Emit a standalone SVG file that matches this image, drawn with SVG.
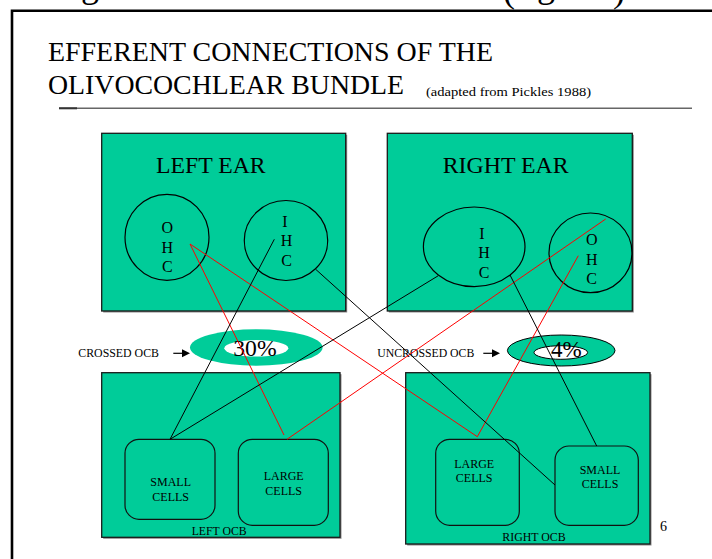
<svg xmlns="http://www.w3.org/2000/svg" width="712" height="559" viewBox="0 0 712 559">
<defs>
<style>
text{font-family:"Liberation Serif","Times New Roman",serif;fill:#000}
.box{fill:#00CC99;stroke:#1a1a1a;stroke-width:1.3}
.shadow{fill:#8a8a8a}
.cell{fill:#00CC99;stroke:#111;stroke-width:1.2}
.ring{fill:none;stroke:#000;stroke-width:1.2}
.let{font-size:16px;text-anchor:middle}
.sm{font-size:12px}
.smc{font-size:12px;text-anchor:middle}
.red{stroke:#FF0000;stroke-width:1;fill:none}
.blk{stroke:#000;stroke-width:1;fill:none}
</style>
</defs>
<rect width="712" height="559" fill="#fff"/>
<g id="cutoff">
<text x="81" y="-3" font-size="36">g</text>
<text x="503" y="2" font-size="36">(</text>
<text x="537" y="-3" font-size="36">g</text>
<text x="613" y="2" font-size="36">)</text>
</g>
<path d="M12,559 V10.8 H712" fill="none" stroke="#000" stroke-width="2.6"/>
<g id="title">
<text x="48" y="61" font-size="28" textLength="445" lengthAdjust="spacingAndGlyphs">EFFERENT CONNECTIONS OF THE</text>
<text x="48" y="94.3" font-size="28" textLength="356" lengthAdjust="spacingAndGlyphs">OLIVOCOCHLEAR BUNDLE</text>
<text x="426" y="95.5" font-size="13" textLength="165" lengthAdjust="spacingAndGlyphs">(adapted  from  Pickles 1988)</text>
<line x1="59" y1="108.3" x2="692" y2="108.3" stroke="#666" stroke-width="1.6"/>
<line x1="59" y1="108.3" x2="77" y2="108.3" stroke="#333" stroke-width="2"/>
</g>
<g id="left-ear">
<rect class="shadow" x="103.2" y="134.8" width="244" height="177.7"/>
<rect class="box" x="101.7" y="133.3" width="244" height="177.7"/>
<text x="156" y="172.7" font-size="23.5" textLength="109.7" lengthAdjust="spacingAndGlyphs">LEFT EAR</text>
<g id="left-ohc">
<ellipse class="ring" cx="167" cy="237.3" rx="42" ry="43"/>
<text class="let" x="167.3" y="233.3">O</text>
<text class="let" x="167.3" y="252.7">H</text>
<text class="let" x="167.3" y="271.7">C</text>
</g>
<g id="left-ihc">
<ellipse class="ring" cx="286" cy="240.5" rx="41.7" ry="40"/>
<text class="let" x="285" y="227.3">I</text>
<text class="let" x="286.5" y="246">H</text>
<text class="let" x="286.5" y="266">C</text>
</g>
</g>
<g id="right-ear">
<rect class="shadow" x="388.8" y="134.8" width="245" height="177.7"/>
<rect class="box" x="387.3" y="133.3" width="245" height="177.7"/>
<text x="442.7" y="172.7" font-size="23.5" textLength="126" lengthAdjust="spacingAndGlyphs">RIGHT EAR</text>
<g id="right-ihc">
<ellipse class="ring" cx="474.2" cy="246.8" rx="50.8" ry="39.8"/>
<text class="let" x="482" y="239.3">I</text>
<text class="let" x="484" y="258.3">H</text>
<text class="let" x="484" y="278.3">C</text>
</g>
<g id="right-ohc">
<ellipse class="ring" cx="590.5" cy="252.8" rx="41.5" ry="39.8"/>
<text class="let" x="591.7" y="245">O</text>
<text class="let" x="591.7" y="265">H</text>
<text class="let" x="591.7" y="284.3">C</text>
</g>
</g>
<g id="crossed">
<text class="sm" x="78.3" y="356.7" textLength="80.7" lengthAdjust="spacingAndGlyphs">CROSSED OCB</text>
<line x1="173.3" y1="353.3" x2="183" y2="353.3" stroke="#000" stroke-width="1.2"/>
<polygon points="182,349.3 190,353.3 182,357.3" fill="#000"/>
<ellipse cx="256.3" cy="347.5" rx="66.3" ry="18.2" fill="#00CC99"/>
<ellipse cx="256.3" cy="348.3" rx="32" ry="8.3" fill="#fff"/>
<text x="233.3" y="356" font-size="24" textLength="43.3" lengthAdjust="spacingAndGlyphs">30%</text>
</g>
<g id="uncrossed">
<text class="sm" x="377.3" y="356.7" textLength="97" lengthAdjust="spacingAndGlyphs">UNCROSSED OCB</text>
<line x1="483.3" y1="353.3" x2="493" y2="353.3" stroke="#000" stroke-width="1.2"/>
<polygon points="492,349.3 500,353.3 492,357.3" fill="#000"/>
<ellipse cx="561.2" cy="350.5" rx="53.8" ry="15.5" fill="#00CC99" stroke="#000" stroke-width="1"/>
<ellipse cx="560.8" cy="352.5" rx="26.8" ry="6.8" fill="#fff" stroke="#000" stroke-width="1"/>
<text x="551" y="356.7" font-size="24" textLength="30.7" lengthAdjust="spacingAndGlyphs">4%</text>
</g>
<g id="left-ocb">
<rect class="shadow" x="103.2" y="374.2" width="238.3" height="164.6"/>
<rect class="box" x="101.7" y="372.7" width="238.3" height="164.6"/>
<g id="left-small">
<rect class="cell" x="125" y="439.3" width="90" height="80" rx="14"/>
<text class="smc" x="170.7" y="486">SMALL</text>
<text class="smc" x="170.7" y="500.7">CELLS</text>
</g>
<g id="left-large">
<rect class="cell" x="238.3" y="439.3" width="90" height="86" rx="14"/>
<text class="smc" x="283.7" y="480">LARGE</text>
<text class="smc" x="283.7" y="495">CELLS</text>
</g>
<text class="sm" x="191.7" y="535" textLength="55" lengthAdjust="spacingAndGlyphs">LEFT OCB</text>
</g>
<g id="right-ocb">
<rect class="shadow" x="407.2" y="374.2" width="244.3" height="171.3"/>
<rect class="box" x="405.7" y="372.7" width="244.3" height="171.3"/>
<g id="right-large">
<rect class="cell" x="435.7" y="439.3" width="83.6" height="86" rx="14"/>
<text class="smc" x="474.2" y="467.7">LARGE</text>
<text class="smc" x="474.2" y="481.7">CELLS</text>
</g>
<g id="right-small">
<rect class="cell" x="555" y="446" width="83.3" height="79.3" rx="14"/>
<text class="smc" x="600" y="474">SMALL</text>
<text class="smc" x="600" y="487.7">CELLS</text>
</g>
<text class="sm" x="502.3" y="540.7" textLength="63.4" lengthAdjust="spacingAndGlyphs">RIGHT OCB</text>
</g>
<text x="660" y="530.7" font-size="14">6</text>
<g id="connectors">
<line class="red" x1="190" y1="244" x2="284" y2="435"/>
<line class="red" x1="190" y1="244" x2="477.3" y2="436.7"/>
<line class="red" x1="578.3" y1="255.7" x2="477.3" y2="436.7"/>
<line class="red" x1="605.7" y1="219" x2="287" y2="439.3"/>
<line class="blk" x1="274.3" y1="239.3" x2="170" y2="439.3"/>
<line class="blk" x1="315.7" y1="269.3" x2="555" y2="485"/>
<line class="blk" x1="438.3" y1="275.7" x2="170" y2="439.3"/>
<line class="blk" x1="510" y1="275" x2="596.7" y2="446"/>
</g>
</svg>
